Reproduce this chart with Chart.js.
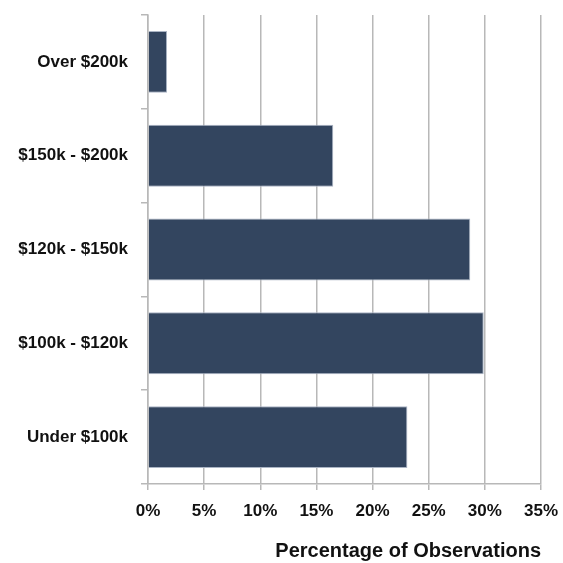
<!DOCTYPE html>
<html>
<head>
<meta charset="utf-8">
<script src="https://cdn.jsdelivr.net/npm/chart.js@4/dist/chart.umd.min.js"></script>
<style>
  html, body { margin: 0; padding: 0; background: #fff; }
  #wrap { width: 563px; height: 563px; }
</style>
</head>
<body>
<div id="wrap"><canvas id="incomeChart" width="563" height="563"></canvas></div>
<script>
// Income bands, top to bottom as in the picture
const categories = ['Over $200k', '$150k - $200k', '$120k - $150k', '$100k - $120k', 'Under $100k'];
// Percentage of observations
const shares = [1.7, 16.5, 28.7, 29.9, 23.1];
const xTicks = [0, 5, 10, 15, 20, 25, 30, 35];

const fontFamily = "'Liberation Sans Narrow', 'Arial Narrow', 'Liberation Sans', Arial, sans-serif";
const gridGray = '#b8b8b8';

const ctx = document.getElementById('incomeChart').getContext('2d');

new Chart(ctx, {
    type: 'bar',
    data: {
        labels: categories,
        datasets: [{
            data: shares,
            backgroundColor: '#33455f',
            borderColor: '#aab4c4',
            borderWidth: 1,
            categoryPercentage: 0.66,
            barPercentage: 1.0
        }]
    },
    options: {
        indexAxis: 'y',
        responsive: false,
        animation: false,
        layout: { padding: { top: 15, right: 22, bottom: 0, left: 0 } },
        plugins: {
            legend: { display: false },
            tooltip: { enabled: false }
        },
        scales: {
            x: {
                min: 0,
                max: 35,
                afterBuildTicks: (axis) => { axis.ticks = xTicks.map(v => ({ value: v })); },
                grid: {
                    color: gridGray,
                    lineWidth: 1.5,
                    tickLength: 6
                },
                border: { color: gridGray, width: 1.5 },
                ticks: {
                    color: '#111',
                    font: { family: fontFamily, size: 17, weight: 'bold' },
                    padding: 11,
                    maxRotation: 0,
                    callback: (v) => v + '%'
                },
                title: {
                    display: true,
                    text: 'Percentage of Observations',
                    align: 'end',
                    color: '#111',
                    font: { family: fontFamily, size: 20, weight: 'bold' },
                    padding: { top: 14, bottom: 0 }
                },
                afterFit: (axis) => {
                    axis.height = 79;
                    axis.paddingLeft = 0;
                    axis.paddingRight = 0;
                }
            },
            y: {
                offset: true,
                grid: {
                    offset: true,
                    drawOnChartArea: false,
                    drawTicks: true,
                    tickLength: 7,
                    color: gridGray,
                    lineWidth: 1.5
                },
                border: { color: gridGray, width: 1.5 },
                ticks: {
                    color: '#111',
                    font: { family: fontFamily, size: 17, weight: 'bold' },
                    padding: 13
                },
                afterFit: (axis) => {
                    axis.width = 148;
                    axis.paddingTop = 0;
                    axis.paddingBottom = 0;
                }
            }
        }
    }
});
</script>
</body>
</html>
